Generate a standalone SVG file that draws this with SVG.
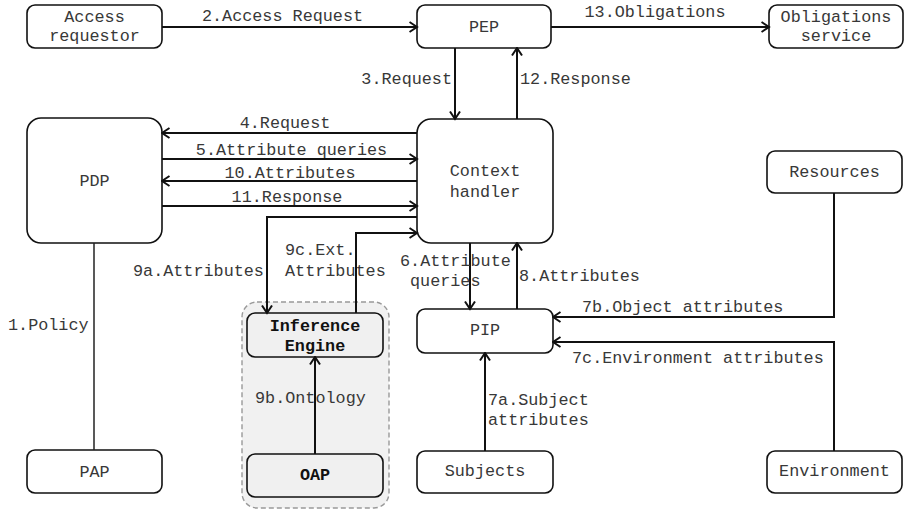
<svg xmlns="http://www.w3.org/2000/svg" width="904" height="510" viewBox="0 0 904 510">
  <style>
    .box { fill: #ffffff; stroke: #111; stroke-width: 1.6; }
    .gbox { fill: #f0f0f0; stroke: #111; stroke-width: 1.6; }
    .group { fill: #f1f1f1; stroke: #999; stroke-width: 1.4; stroke-dasharray: 5 3; }
    .t { font-family: "Liberation Mono", "Courier New", monospace; font-size: 16.8px; fill: #383838; }
    .c { text-anchor: middle; }
    .b { font-weight: bold; fill: #111; }
    .e { text-anchor: end; }
    .conn { fill: none; stroke: #111; stroke-width: 2; }
    .thin { fill: none; stroke: #222; stroke-width: 1.5; }
  </style>
  <defs>
    <marker id="arrow" viewBox="0 0 10 12" refX="8.5" refY="6" markerWidth="10" markerHeight="12" markerUnits="userSpaceOnUse" orient="auto">
      <path d="M1,1 L8.5,6 L1,11" fill="none" stroke="#111" stroke-width="2"/>
    </marker>
  </defs>

  <rect width="904" height="510" fill="#ffffff"/>

  <!-- ontology cluster background -->
  <g id="ontology-cluster">
    <rect class="group" x="242" y="302" width="147" height="206" rx="15"/>
  </g>

  <g id="access-requestor">
    <rect class="box" x="27" y="5" width="135" height="43" rx="8"/>
    <text class="t c" x="94.5" y="22">Access</text>
    <text class="t c" x="94.5" y="41">requestor</text>
  </g>
  <g id="pep">
    <rect class="box" x="417" y="5" width="134" height="43" rx="8"/>
    <text class="t c" x="484" y="32">PEP</text>
  </g>
  <g id="obligations-service">
    <rect class="box" x="769" y="5" width="134" height="43" rx="8"/>
    <text class="t c" x="836" y="22">Obligations</text>
    <text class="t c" x="836" y="41">service</text>
  </g>
  <g id="pdp">
    <rect class="box" x="27" y="118" width="135" height="125" rx="14"/>
    <text class="t c" x="94.5" y="186">PDP</text>
  </g>
  <g id="context-handler">
    <rect class="box" x="417" y="119" width="136" height="124" rx="14"/>
    <text class="t c" x="485" y="176">Context</text>
    <text class="t c" x="485" y="197">handler</text>
  </g>
  <g id="resources">
    <rect class="box" x="767" y="151" width="135" height="42" rx="8"/>
    <text class="t c" x="834.5" y="177">Resources</text>
  </g>
  <g id="pip">
    <rect class="box" x="417" y="309" width="136" height="44" rx="8"/>
    <text class="t c" x="485" y="335">PIP</text>
  </g>
  <g id="inference-engine">
    <rect class="gbox" x="247" y="313" width="136" height="44" rx="8"/>
    <text class="t c b" x="315" y="331">Inference</text>
    <text class="t c b" x="315" y="351">Engine</text>
  </g>
  <g id="oap">
    <rect class="gbox" x="247" y="454" width="136" height="43" rx="8"/>
    <text class="t c b" x="315" y="480">OAP</text>
  </g>
  <g id="pap">
    <rect class="box" x="27" y="450" width="135" height="43" rx="8"/>
    <text class="t c" x="94.5" y="477">PAP</text>
  </g>
  <g id="subjects">
    <rect class="box" x="417" y="451" width="136" height="42" rx="8"/>
    <text class="t c" x="485" y="476">Subjects</text>
  </g>
  <g id="environment">
    <rect class="box" x="767" y="451" width="135" height="42" rx="8"/>
    <text class="t c" x="834.5" y="476">Environment</text>
  </g>

  <!-- connectors -->
  <g id="connectors">
    <path class="conn" d="M162,27 H417" marker-end="url(#arrow)"/>
    <path class="conn" d="M551,27 H769" marker-end="url(#arrow)"/>
    <path class="conn" d="M455,48 V119" marker-end="url(#arrow)"/>
    <path class="conn" d="M517,119 V48" marker-end="url(#arrow)"/>
    <path class="conn" d="M417,133 H162" marker-end="url(#arrow)"/>
    <path class="conn" d="M162,159 H417" marker-end="url(#arrow)"/>
    <path class="conn" d="M417,181 H162" marker-end="url(#arrow)"/>
    <path class="conn" d="M162,206 H417" marker-end="url(#arrow)"/>
    <path class="conn" d="M417,217 H267 V313" marker-end="url(#arrow)"/>
    <path class="conn" d="M356,313 V233 H417" marker-end="url(#arrow)"/>
    <path class="conn" d="M470,243 V309" marker-end="url(#arrow)"/>
    <path class="conn" d="M517,309 V243" marker-end="url(#arrow)"/>
    <path class="conn" d="M834,193 V317 H553" marker-end="url(#arrow)"/>
    <path class="conn" d="M834,451 V342 H553" marker-end="url(#arrow)"/>
    <path class="conn" d="M485,451 V353" marker-end="url(#arrow)"/>
    <path class="conn" d="M315,454 V357" marker-end="url(#arrow)"/>
    <path class="thin" d="M94,243 V450"/>

    <!-- connector labels -->
    <text class="t c" x="282.5" y="21">2.Access Request</text>
    <text class="t c" x="655" y="17">13.Obligations</text>
    <text class="t e" x="452" y="84">3.Request</text>
    <text class="t" x="520" y="84">12.Response</text>
    <text class="t c" x="285" y="128">4.Request</text>
    <text class="t c" x="291.5" y="155">5.Attribute queries</text>
    <text class="t c" x="290" y="178">10.Attributes</text>
    <text class="t c" x="287" y="202">11.Response</text>
    <text class="t" x="133" y="276">9a.Attributes</text>
    <text class="t" x="285" y="255">9c.Ext.</text>
    <text class="t" x="285" y="276">Attributes</text>
    <text class="t" x="400" y="266">6.Attribute</text>
    <text class="t" x="410" y="286">queries</text>
    <text class="t" x="519" y="281">8.Attributes</text>
    <text class="t" x="582" y="312">7b.Object attributes</text>
    <text class="t" x="572" y="363">7c.Environment attributes</text>
    <text class="t" x="488" y="405">7a.Subject</text>
    <text class="t" x="488" y="425">attributes</text>
    <text class="t" x="8" y="330">1.Policy</text>
    <text class="t" x="255" y="403">9b.Ontology</text>
  </g>
</svg>
